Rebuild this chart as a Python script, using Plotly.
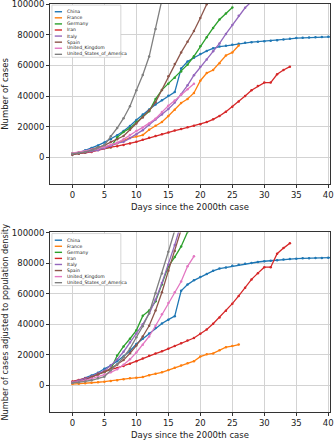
import plotly.graph_objects as go
from plotly.subplots import make_subplots

names = ["China", "France", "Germany", "Iran", "Italy", "Spain", "United_Kingdom", "United_States_of_America"]
colors = ["#1f77b4", "#ff7f0e", "#2ca02c", "#d62728", "#9467bd", "#8c564b", "#e377c2", "#7f7f7f"]

# Top panel: number of cases (thousands), index = days since 2000th case
china_top = [2.0, 2.8, 4.5, 6.0, 7.7, 9.7, 11.8, 14.4, 17.2, 20.4, 24.3, 28.0, 31.2, 34.5, 37.2, 40.2, 42.6,
             58.0, 62.5, 65.0, 67.5, 69.5, 71.2, 72.3, 72.8, 73.5, 74.2, 74.8, 75.2, 75.5, 75.8, 76.1, 76.5,
             76.9, 77.4, 77.9, 78.1, 78.3, 78.4, 78.6, 78.7, 78.8]
france_top = [2.3, 2.9, 3.7, 4.5, 5.4, 6.6, 7.7, 9.1, 11.0, 12.6, 13.5, 14.5, 18.0, 20.5, 23.0, 27.0, 31.0,
              35.5, 38.0, 42.0, 50.0, 55.0, 57.0, 61.5, 66.5, 68.5, 73.0]
germany_top = [2.4, 3.1, 3.8, 4.8, 5.6, 6.0, 6.5, 13.0, 16.5, 19.0, 23.0, 26.5, 30.0, 38.0, 44.0, 48.0, 52.0,
               56.0, 60.5, 66.0, 72.5, 78.5, 84.5, 90.0, 94.0, 97.8]
iran_top = [2.0, 2.3, 2.9, 3.5, 4.7, 5.8, 6.6, 7.2, 8.0, 9.0, 10.1, 11.4, 12.7, 13.9, 15.0, 16.2, 17.4, 18.4,
            19.6, 20.6, 21.6, 23.0, 24.8, 27.0, 29.8, 33.0, 36.5, 40.0, 43.8, 46.5, 48.8, 48.8, 54.2, 57.0, 59.2]
italy_top = [2.0, 2.5, 3.1, 3.9, 4.6, 5.9, 7.4, 9.2, 10.1, 12.5, 15.1, 17.7, 21.2, 24.7, 28.0, 31.5, 35.7,
             41.0, 47.0, 53.6, 59.1, 63.9, 69.2, 74.4, 80.6, 86.5, 92.5, 97.7, 101.7]
spain_top = [1.7, 2.3, 3.1, 5.2, 6.4, 7.8, 9.9, 11.7, 13.9, 18.0, 22.0, 26.0, 30.5, 36.0, 44.0, 53.0, 61.0,
             68.5, 75.5, 82.5, 91.0, 100.0, 106.0]
uk_top = [2.6, 3.3, 4.0, 5.0, 5.7, 6.7, 8.1, 9.5, 11.7, 14.5, 17.1, 19.5, 22.1, 25.2, 29.5, 33.7, 37.0, 41.0,
          44.5, 48.0]
usa_top = [2.2, 2.7, 3.5, 4.6, 6.4, 7.8, 13.7, 19.1, 25.5, 33.3, 43.8, 53.7, 65.8, 83.8, 101.7, 121.5]

# Bottom panel: cases adjusted to population density (thousands)
china_bot = [2.1, 3.0, 4.8, 6.4, 8.2, 10.8, 13.0, 15.8, 18.9, 22.5, 27.0, 30.5, 34.0, 37.5, 40.5, 43.0, 45.3,
             61.9, 66.0, 68.8, 71.0, 73.0, 75.0, 76.5, 77.2, 78.4, 79.0, 79.7, 80.2, 80.8, 81.3, 81.7, 82.0,
             82.4, 82.8, 83.0, 83.2, 83.3, 83.4, 83.5, 83.6, 83.7]
france_bot = [0.8, 1.0, 1.3, 1.6, 2.0, 2.4, 2.8, 3.3, 4.0, 4.6, 5.0, 5.4, 6.6, 7.5, 8.5, 10.0, 11.5, 13.0,
              14.5, 15.8, 18.8, 20.3, 20.9, 23.0, 25.0, 25.7, 26.7]
germany_bot = [2.2, 3.0, 4.0, 5.5, 7.0, 8.5, 10.5, 19.5, 25.5, 30.5, 36.0, 45.5, 49.0, 55.0, 66.0, 78.0, 84.0,
               91.0, 100.5, 108.0]
iran_bot = [2.5, 3.5, 4.5, 5.5, 7.5, 9.2, 10.4, 11.4, 12.6, 14.2, 15.8, 17.6, 19.4, 20.8, 22.3, 24.0, 25.8,
            27.5, 29.3, 31.0, 33.8, 36.5, 40.3, 44.5, 48.9, 53.5, 58.6, 64.0, 69.4, 73.5, 77.4, 77.4, 86.2,
            89.9, 93.1]
italy_bot = [2.0, 3.0, 4.3, 5.8, 7.5, 9.5, 13.0, 17.0, 22.0, 28.0, 34.0, 40.0, 47.0, 56.0, 67.0, 79.0, 92.0,
             106.0]
spain_bot = [1.8, 2.4, 3.4, 5.5, 7.0, 8.8, 11.0, 13.5, 16.5, 21.0, 26.0, 32.0, 39.0, 49.0, 61.0, 75.0, 88.0,
             102.0]
uk_bot = [1.8, 2.4, 3.2, 4.3, 5.5, 7.0, 8.5, 10.5, 13.5, 17.0, 21.5, 26.5, 32.0, 39.0, 46.5, 54.0, 61.0,
          68.0, 78.0, 84.5]
usa_bot = [1.5, 1.9, 2.5, 3.3, 4.6, 5.6, 9.9, 13.8, 18.4, 24.0, 31.5, 38.7, 47.4, 60.3, 73.2, 87.5, 101.5,
           118.0]

top_series = [china_top, france_top, germany_top, iran_top, italy_top, spain_top, uk_top, usa_top]
bot_series = [china_bot, france_bot, germany_bot, iran_bot, italy_bot, spain_bot, uk_bot, usa_bot]

x_ticks = [0, 5, 10, 15, 20, 25, 30, 35, 40]
y_ticks = [0, 20000, 40000, 60000, 80000, 100000]
x_title = "Days since the 2000th case"
y_title_top = "Number of cases"
y_title_bot = "Number of cases adjusted to population density"

fig = make_subplots(rows=2, cols=1)

for row, series in ((1, top_series), (2, bot_series)):
    for name, color, vals in zip(names, colors, series):
        fig.add_trace(go.Scatter(
            x=list(range(len(vals))), y=[v * 1000 for v in vals], name=name,
            mode="lines+markers", line=dict(color=color, width=1.3),
            marker=dict(color=color, size=2.5), showlegend=False), row=row, col=1)

FONT = "DejaVu Sans"
axis_common = dict(showline=True, linecolor="#333333", linewidth=1, mirror=True,
                   ticks="outside", ticklen=3, tickcolor="#333333", showgrid=True,
                   gridcolor="#d3d3d3", gridwidth=1, zeroline=False, automargin=False,
                   ticklabeloverflow="allow",
                   tickfont=dict(family=FONT, size=8.5, color="#222222"))

fig.update_xaxes(range=[-3.5, 40.27], tickvals=x_ticks, **axis_common)
fig.update_yaxes(range=[-17500, 100150], tickvals=y_ticks, tickformat="d", **axis_common)

tf = dict(family=FONT, size=8.5, color="#222")
fig.update_layout(
    width=335, height=440,
    margin=dict(l=50, r=5, t=4, b=28, autoexpand=False),
    plot_bgcolor="white", paper_bgcolor="white",
    xaxis=dict(domain=[0, 1], title=dict(text=x_title, font=tf, standoff=4)),
    yaxis=dict(domain=[0.5588, 1.0], title=dict(text=y_title_top, font=tf, standoff=6)),
    xaxis2=dict(domain=[0, 1], title=dict(text=x_title, font=tf, standoff=4)),
    yaxis2=dict(domain=[0.0, 0.44], title=dict(text=y_title_bot, font=dict(family=FONT, size=8.2, color="#222"), standoff=6)),
)

# Custom compact legends (matplotlib-style) in each panel
shapes = []
annotations = []
for xref, yref in (("x domain", "y domain"), ("x2 domain", "y2 domain")):
    bx0, bx1 = 0.007, 0.253
    by1 = 0.994
    by0 = by1 - 0.29
    shapes.append(dict(type="rect", xref=xref, yref=yref, x0=bx0, x1=bx1, y0=by0, y1=by1,
                       fillcolor="white", line=dict(color="#cccccc", width=0.8), layer="above"))
    for i, (name, color) in enumerate(zip(names, colors)):
        yy = by1 - 0.037 - i * 0.0338
        shapes.append(dict(type="line", xref=xref, yref=yref, x0=0.017, x1=0.043, y0=yy, y1=yy,
                           line=dict(color=color, width=1.4), layer="above"))
        annotations.append(dict(xref=xref, yref=yref, x=0.055, y=yy, text=name, showarrow=False,
                                xanchor="left", yanchor="middle",
                                font=dict(family=FONT, size=4.6, color="#222222")))
fig.update_layout(shapes=shapes, annotations=annotations)

fig.write_html("out.html", config={"displayModeBar": False},
               post_script="document.body.style.margin='0';document.body.style.overflow='hidden';")
